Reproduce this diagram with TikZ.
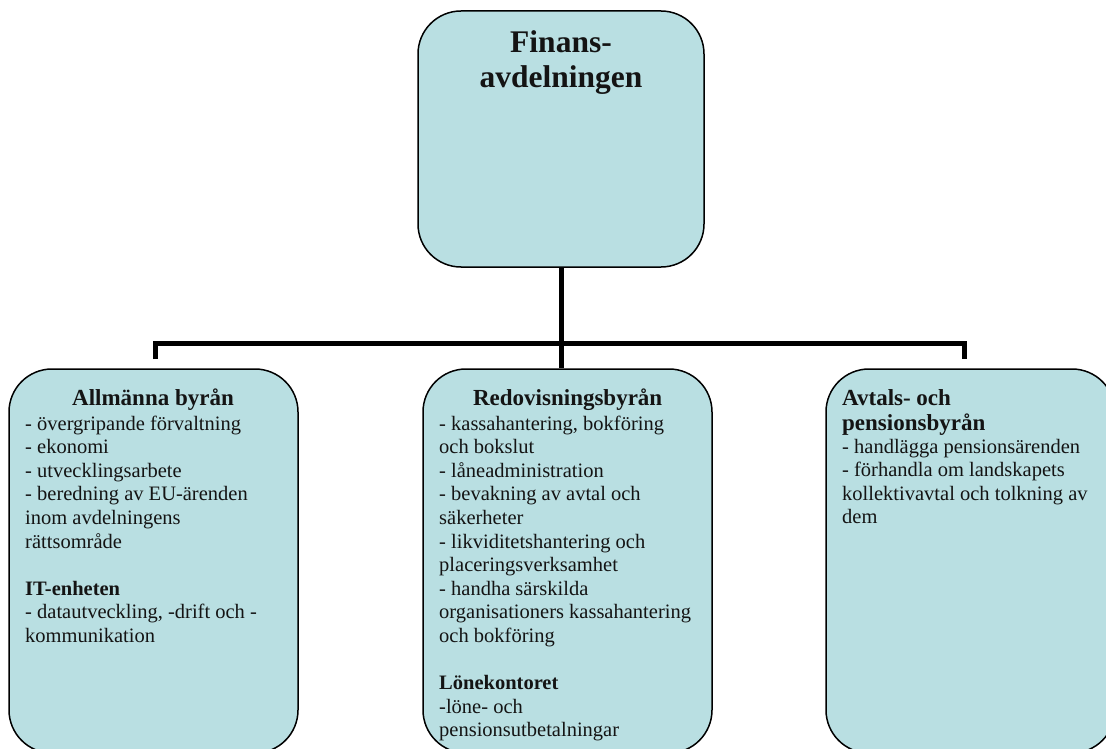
\documentclass[tikz,border=0pt]{standalone}
\usepackage{fontspec}
\setmainfont{Liberation Serif}
\definecolor{boxfill}{RGB}{185,223,226}
\definecolor{ink}{RGB}{20,20,20}
\begin{document}
\begin{tikzpicture}[x=1pt,y=-1pt,
  unit/.style={draw=black, line width=1.5pt, fill=boxfill, rounded corners=43pt, rectangle, inner sep=0pt},
  conn/.style={line width=5pt, black, line join=miter},
  body/.style={inner sep=0pt, anchor=base west, text=ink, font=\fontsize{20.5}{23.6}\selectfont},
  ttl/.style={inner sep=0pt, anchor=base, text=ink, font=\fontsize{23}{25}\selectfont\bfseries},
  ttlw/.style={inner sep=0pt, anchor=base west, text=ink, font=\fontsize{23}{25}\selectfont\bfseries}
]
\useasboundingbox (0,0) rectangle (1106,749);

% boxes
\node[unit, minimum width=286pt, minimum height=256pt] (top) at (561,139) {};
\node[unit, minimum width=289pt, minimum height=384pt] (lft) at (153.5,561) {};
\node[unit, minimum width=289pt, minimum height=384pt] (mid) at (567.5,561) {};
\node[unit, minimum width=289pt, minimum height=384pt] (rgt) at (970.5,561) {};

% connectors
\coordinate (bar) at (561,343);
\coordinate (jL) at (155,359);
\coordinate (jR) at (964,359);
\draw[conn] (top.south) -- (top.south |- mid.north);
\draw[conn] (jL) -- (jL |- bar) -- (jR |- bar) -- (jR);

% top title
\node[inner sep=0pt, anchor=base, text=ink, font=\fontsize{31.5}{35}\selectfont\bfseries] (toptitle) at (561,53)
  {\parbox[t]{260pt}{\centering Finans-\\avdelningen}};

% left box
\node[ttl] (ltitle) at (153,405) {Allmänna byrån};
\node[body] (lbody) at (25,430) {\parbox[t]{300pt}{\raggedright
- övergripande förvaltning\\
- ekonomi\\
- utvecklingsarbete\\
- beredning av EU-ärenden\\
inom avdelningens\\
rättsområde\\[23.6pt]
{\bfseries IT-enheten}\\
- datautveckling, -drift och -\\
kommunikation}};

% middle box
\node[ttl] (mtitle) at (567.7,405) {Redovisningsbyrån};
\node[body] (mbody) at (439,430) {\parbox[t]{300pt}{\raggedright
- kassahantering, bokföring\\
och bokslut\\
- låneadministration\\
- bevakning av avtal och\\
säkerheter\\
- likviditetshantering och\\
placeringsverksamhet\\
- handha särskilda\\
organisationers kassahantering\\
och bokföring\\[23.6pt]
{\bfseries Lönekontoret}\\
-löne- och\\
pensionsutbetalningar}};

% right box
\node[ttlw] (rtitle) at (842,405) {\parbox[t]{250pt}{Avtals- och\\pensionsbyrån}};
\node[body] (rbody) at (842,453) {\parbox[t]{300pt}{\raggedright
- handlägga pensionsärenden\\
- förhandla om landskapets\\
kollektivavtal och tolkning av\\
dem}};
\end{tikzpicture}
\end{document}
